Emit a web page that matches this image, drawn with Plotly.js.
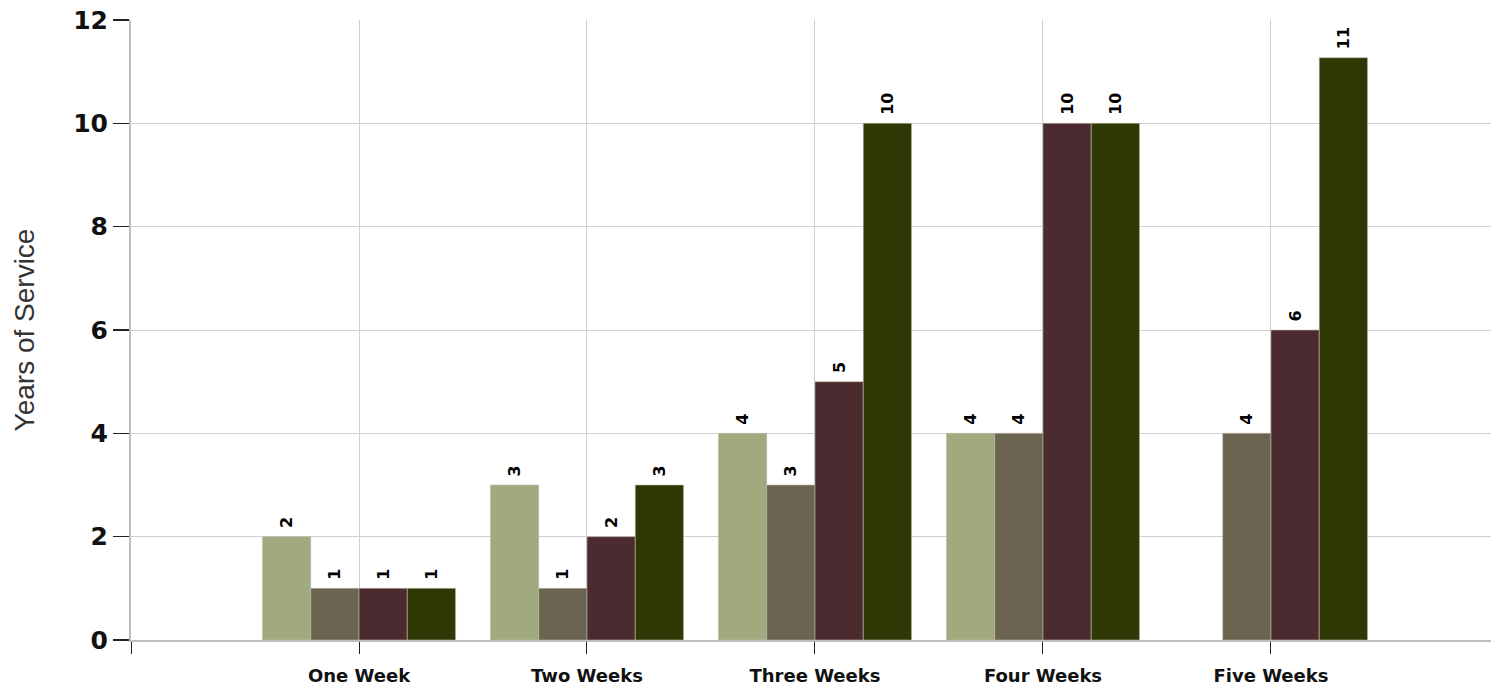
<!DOCTYPE html>
<html>
<head>
<meta charset="utf-8">
<script src="https://cdn.plot.ly/plotly-3.0.1.min.js"></script>
<style>html,body{margin:0;padding:0;background:#fff;}#chart{width:1491px;height:687px;}</style>
</head>
<body>
<div id="chart"></div>
<script>
const categories = ['One Week', 'Two Weeks', 'Three Weeks', 'Four Weeks', 'Five Weeks'];
const series1 = [2, 3, 4, 4, null];
const series2 = [1, 1, 3, 4, 4];
const series3 = [1, 2, 5, 10, 6];
const series4 = [1, 3, 10, 10, 11.27];
const seriesNames = ['Series 1', 'Series 2', 'Series 3', 'Series 4'];
const seriesColors = ['#a1a97f', '#6b6451', '#4b2b2f', '#2f3804'];
const yTicks = [0, 2, 4, 6, 8, 10, 12];

const xPos = categories.map((c, i) => i + 1);
const allSeries = [series1, series2, series3, series4];

const traces = allSeries.map((vals, k) => ({
  type: 'bar',
  name: seriesNames[k],
  x: xPos,
  y: vals,
  marker: { color: seriesColors[k], line: { color: 'rgba(190,190,175,0.7)', width: 0.8 } },
  texttemplate: '\u00a0%{y:.0f}',
  textposition: 'outside',
  textangle: -90,
  constraintext: 'none',
  cliponaxis: false,
  textfont: { family: 'DejaVu Sans', size: 16, color: '#000', weight: 600 },
  hoverinfo: 'x+y'
}));

const layout = {
  width: 1491,
  height: 687,
  margin: { l: 131, r: 0, t: 20, b: 47 },
  paper_bgcolor: '#fff',
  plot_bgcolor: '#fff',
  showlegend: false,
  barmode: 'group',
  bargap: 0.153,
  bargroupgap: 0,
  xaxis: {
    type: 'linear',
    range: [0, 5.965],
    tickvals: [0].concat(xPos),
    ticktext: [''].concat(categories),
    ticks: 'outside',
    ticklen: 12,
    tickcolor: '#222',
    tickwidth: 1,
    ticklabelstandoff: 6,
    tickfont: { family: 'DejaVu Sans', size: 18, color: '#111', weight: 'bold' },
    showgrid: true,
    gridcolor: '#d0d0d0',
    gridwidth: 1,
    showline: true,
    linecolor: '#bdbdbd',
    linewidth: 2,
    zeroline: false,
    fixedrange: true
  },
  yaxis: {
    range: [0, 12],
    tickvals: yTicks,
    ticks: 'outside',
    ticklen: 16,
    tickcolor: '#222',
    tickwidth: 1.5,
    tickfont: { family: 'DejaVu Sans', size: 25, color: '#111', weight: 'bold' },
    showgrid: true,
    gridcolor: '#d0d0d0',
    gridwidth: 1,
    showline: true,
    linecolor: '#bdbdbd',
    linewidth: 2,
    zeroline: false,
    automargin: false,
    title: { text: 'Years of Service', font: { family: 'Liberation Sans', size: 28, color: '#333' }, standoff: 30 },
    fixedrange: true
  }
};

Plotly.newPlot('chart', traces, layout, { displayModeBar: false, staticPlot: true });
</script>
</body>
</html>
